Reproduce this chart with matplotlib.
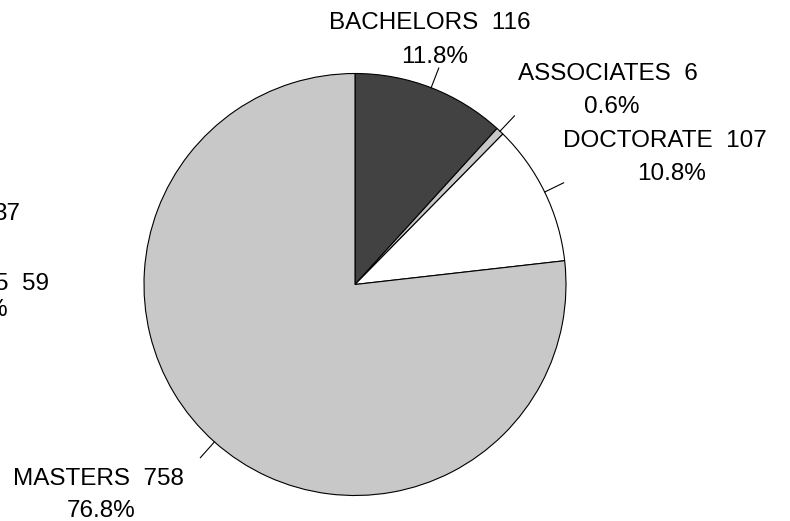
import matplotlib
matplotlib.use("Agg")
import matplotlib.pyplot as plt
import numpy as np

# ---- data ----
categories = ["BACHELORS", "ASSOCIATES", "DOCTORATE", "MASTERS"]
counts = [116, 6, 107, 758]
colors = ["#424242", "#c8c8c8", "#ffffff", "#c8c8c8"]

# fragments of neighbouring labels cut off at the left edge
left_fragments = ["37", "5  59", "%"]

# ---- layout (pixels) ----
W, H = 790, 521
center_px = (355, 284.5)
radius_px = 211
# label anchors (center x, baseline y of first line / second line)
label_pos = [
    ((430, 29), (435, 63)),
    ((608, 80), (612, 113)),
    ((665, 147), (672, 180)),
    ((98, 485), (101, 517)),
]
frag_pos = [(20, 220), (49, 290), (7, 316)]

FONT = "Liberation Sans"
FS = 17.5

fig = plt.figure(figsize=(W / 100, H / 100), dpi=100)
ax = fig.add_axes([0, 0, 1, 1])
ax.set_xlim(0, W)
ax.set_ylim(0, H)
ax.set_aspect("equal")
ax.axis("off")

cx, cy = center_px[0], H - center_px[1]
wedges, _ = ax.pie(counts, colors=colors, startangle=90, counterclock=False,
                   center=(cx, cy), radius=radius_px,
                   wedgeprops=dict(edgecolor="black", linewidth=0.8))
ax.set_xlim(0, W)
ax.set_ylim(0, H)

total = sum(counts)
for w, cat, n, ((x1, y1), (x2, y2)) in zip(wedges, categories, counts, label_pos):
    mid = np.deg2rad((w.theta1 + w.theta2) / 2)
    r0, r1 = radius_px, radius_px * 1.1
    ax.plot([cx + r0 * np.cos(mid), cx + r1 * np.cos(mid)],
            [cy + r0 * np.sin(mid), cy + r1 * np.sin(mid)],
            color="black", linewidth=0.8)
    pct = 100 * n / total
    ax.text(x1, H - y1, f"{cat}  {n}", ha="center", va="baseline",
            fontsize=FS, family=FONT, color="black")
    ax.text(x2, H - y2, f"{pct:.1f}%", ha="center", va="baseline",
            fontsize=FS, family=FONT, color="black")

for txt, (x, y) in zip(left_fragments, frag_pos):
    ax.text(x, H - y, txt, ha="right", va="baseline", fontsize=FS,
            family=FONT, color="black", clip_on=False)

fig.savefig("out.png", dpi=100, facecolor="white")
